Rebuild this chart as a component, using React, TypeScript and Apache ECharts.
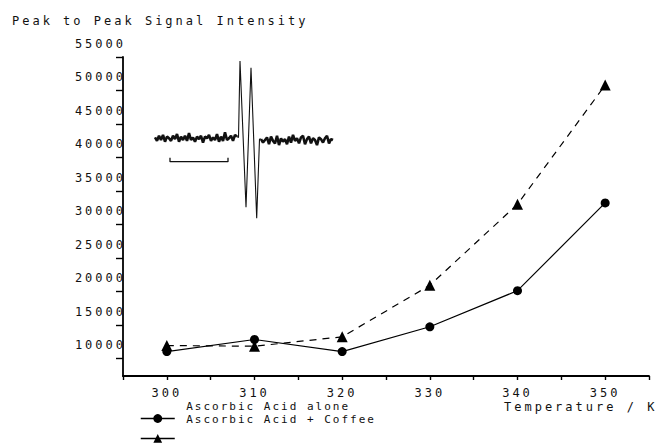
import React, { useEffect, useRef } from "react";
import * as echarts from "echarts";

// ---- main chart data ----
const temperatures = [300, 310, 320, 330, 340, 350];
const ascorbicAlone = [11000, 12800, 11000, 14700, 20100, 33200];
const ascorbicCoffee = [11900, 11800, 13200, 20900, 33000, 50800];
const xLabelTicks = [300, 310, 320, 330, 340, 350];
const xRange = [295, 355];
const yRange = [7350, 55000];
const seriesNames = ["Ascorbic Acid alone", "Ascorbic Acid + Coffee"];
const yTitle = "Peak to Peak Signal Intensity";
const xTitle = "Temperature / K";

// ---- inset EPR spectrum (arbitrary field units / intensity) ----
const insetStep = 2;
const insetLeftStart = 5;
const insetLeftNoise = [3, -1, 5, 0, 6, -2, 4, 2, -1, 5, 1, 7, -2, 4, 0, 5, -1, 8, 0, 3, -2, 4, 1, 5, -3, 4, 2, 6, -1, 3, 0, 7, -2, 4, -1, 9, 0, 2, 5, -1, 6, 4];
const insetPeaks: [number, number][] = [
  [87, 4],
  [88.5, 3],
  [90, 93],
  [96, -79],
  [101, 85],
  [106.7, -92],
  [109.5, 1],
  [111, 1],
];
const insetRightStart = 111;
const insetRightNoise = [1, -3, 0, 3, -5, 4, -1, -4, 5, -6, 2, -2, 1, -5, 4, -3, 6, -1, 2, -4, 3, 5, -5, 1, 4, -4, 2, 0, -6, 3, 1, -3, 2, 5, -4, 1, 0];
const scaleBar: [number, number][] = [
  [20, -21],
  [20, -25.5],
  [78, -25.5],
  [78, -21],
];

const FONT = "'DejaVu Sans Mono', 'Liberation Mono', monospace";
const INK = "#111";

function toPairs(start: number, values: number[]): [number, number][] {
  return values.map((v, i) => [start + i * insetStep, v] as [number, number]);
}

export default function App() {
  const ref = useRef<HTMLDivElement>(null);
  useEffect(() => {
    if (!ref.current) return;
    const chart = echarts.init(ref.current, undefined, { renderer: "svg" });
    const textStyle = { fontFamily: FONT, fontSize: 12, color: INK, fontWeight: "normal" as const };
    const insetLine = (name: string, data: [number, number][], width: number) => ({
      name,
      type: "line",
      xAxisIndex: 1,
      yAxisIndex: 1,
      data,
      symbol: "none",
      lineStyle: { color: "#111", width },
      silent: true,
    });
    chart.setOption({
      animation: false,
      backgroundColor: "#fff",
      title: [
        { text: yTitle, left: 12, top: 15, padding: 0, textStyle: { ...textStyle } },
        { text: xTitle, left: 504, top: 401, padding: 0, textStyle: { ...textStyle } },
      ],
      legend: [
        {
          data: seriesNames,
          orient: "vertical",
          left: 176,
          top: 400,
          height: 80,
          padding: 0,
          itemWidth: 0,
          itemHeight: 13,
          itemGap: 0,
          selectedMode: false,
          itemStyle: { opacity: 0 },
          lineStyle: { opacity: 0 },
          textStyle: { fontFamily: FONT, fontSize: 11, color: INK, lineHeight: 13 },
        },
        {
          data: seriesNames,
          orient: "vertical",
          left: 140,
          top: 413,
          height: 80,
          padding: 0,
          itemWidth: 34,
          itemHeight: 11,
          itemGap: 10,
          selectedMode: false,
          formatter: () => "",
          lineStyle: { type: "solid", width: 1.5, color: "#000" },
          itemStyle: { color: "#000" },
          textStyle: { fontSize: 1 },
        },
      ],
      grid: [
        { left: 123, right: 8, top: 57, bottom: 71 },
        { left: 150, top: 55, width: 190, height: 170 },
      ],
      xAxis: [
        {
          type: "value",
          gridIndex: 0,
          min: xRange[0],
          max: xRange[1],
          interval: 5,
          axisLine: { show: true, lineStyle: { color: "#000", width: 1.8 } },
          axisTick: { show: true, length: 4, lineStyle: { color: "#000", width: 1.4 } },
          axisLabel: {
            ...textStyle,
            margin: 11,
            formatter: (v: number) => (xLabelTicks.includes(v) ? String(v) : ""),
          },
          splitLine: { show: false },
        },
        { type: "value", gridIndex: 1, min: 0, max: 190, show: false },
      ],
      yAxis: [
        {
          type: "value",
          gridIndex: 0,
          min: yRange[0],
          max: yRange[1],
          splitNumber: 10,
          axisLine: { show: true, lineStyle: { color: "#000", width: 1.8 } },
          axisTick: { show: true, length: 7, lineStyle: { color: "#000", width: 1.4 } },
          axisLabel: {
            ...textStyle,
            margin: -3,
            showMinLabel: false,
            verticalAlign: "bottom",
            lineHeight: 26,
            formatter: (v: number) => String(v),
          },
          splitLine: { show: false },
        },
        { type: "value", gridIndex: 1, min: -100, max: 100, show: false },
      ],
      series: [
        {
          name: seriesNames[0],
          type: "line",
          xAxisIndex: 0,
          yAxisIndex: 0,
          data: temperatures.map((t, i) => [t, ascorbicAlone[i]]),
          symbol: "circle",
          symbolSize: 9,
          lineStyle: { color: "#000", width: 1.2 },
          itemStyle: { color: "#000" },
          z: 4,
        },
        {
          name: seriesNames[1],
          type: "line",
          xAxisIndex: 0,
          yAxisIndex: 0,
          data: temperatures.map((t, i) => [t, ascorbicCoffee[i]]),
          symbol: "triangle",
          symbolSize: 11,
          lineStyle: { color: "#000", width: 1.2, type: [7, 6] },
          itemStyle: { color: "#000" },
          z: 3,
        },
        insetLine("baselineLeft", toPairs(insetLeftStart, insetLeftNoise), 2.6),
        insetLine("peaks", insetPeaks, 1.1),
        insetLine("baselineRight", toPairs(insetRightStart, insetRightNoise), 2.6),
        insetLine("scale", scaleBar, 1.3),
      ],
    });
    return () => chart.dispose();
  }, []);
  return (
    <>
      <style>{`.chart-root svg text{letter-spacing:3px;} .chart-root svg text[style*="11px"]{letter-spacing:2px;}`}</style>
      <div
        ref={ref}
        className="chart-root"
        style={{ position: "absolute", left: 0, top: 0, width: 657, height: 447, background: "#fff" }}
      />
    </>
  );
}
